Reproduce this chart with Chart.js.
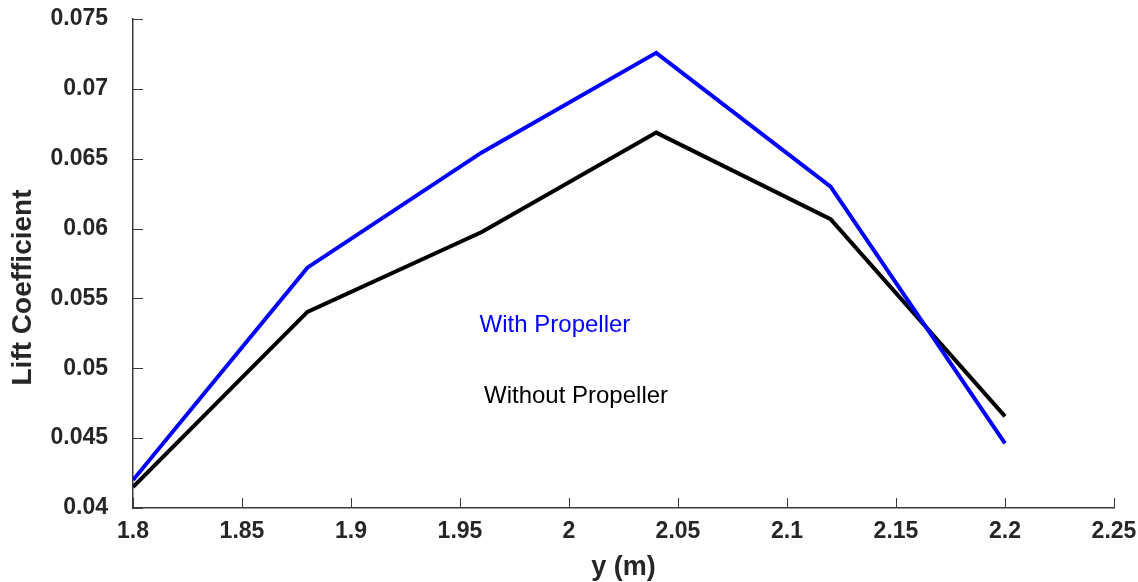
<!DOCTYPE html>
<html>
<head>
<meta charset="utf-8">
<script src="https://cdn.jsdelivr.net/npm/chart.js@4.4.1/dist/chart.umd.min.js"></script>
<style>
  html, body { margin: 0; padding: 0; background: #fff; }
  #wrap { width: 1138px; height: 582px; }
</style>
</head>
<body>
<div id="wrap"><canvas id="lift"></canvas></div>
<script>
// Spanwise lift coefficient, with and without propeller
const spanY = [1.8, 1.88, 1.96, 2.04, 2.12, 2.2];
const liftWithProp = [0.0420, 0.0572, 0.06545, 0.07258, 0.0630, 0.04463];
const liftWithoutProp = [0.0415, 0.05404, 0.05975, 0.06687, 0.06067, 0.04656];

const xTicks = [1.8, 1.85, 1.9, 1.95, 2, 2.05, 2.1, 2.15, 2.2, 2.25];
const yTicks = [0.04, 0.045, 0.05, 0.055, 0.06, 0.065, 0.07, 0.075];

// text labels placed in data coordinates
const notes = [
    { text: 'With Propeller', x: 1.959, y: 0.0531, color: '#0000ff' },
    { text: 'Without Propeller', x: 1.961, y: 0.0480, color: '#000000' }
];

const fmt = v => String(parseFloat(Number(v).toFixed(4)));
const AXIS = '#3a3a3a';
const FONT = '"Liberation Sans", Arial, sans-serif';

// inward tick marks, y title and the two text notes
const extras = {
    id: 'extras',
    afterDraw(chart) {
        const { ctx, chartArea: a, scales: { x, y } } = chart;
        ctx.save();
        ctx.strokeStyle = AXIS;
        ctx.lineWidth = 1;
        ctx.beginPath();
        xTicks.forEach(v => {
            const px = Math.round(x.getPixelForValue(v)) + 0.5;
            ctx.moveTo(px, a.bottom);
            ctx.lineTo(px, a.bottom - 10);
        });
        yTicks.forEach(v => {
            const py = Math.round(y.getPixelForValue(v)) + 0.5;
            ctx.moveTo(a.left, py);
            ctx.lineTo(a.left + 10, py);
        });
        ctx.stroke();

        // y axis title, sits a bit below the middle like the original
        ctx.save();
        ctx.translate(23, (a.top + a.bottom) / 2 + 24);
        ctx.rotate(-Math.PI / 2);
        ctx.font = 'bold 28px ' + FONT;
        ctx.fillStyle = '#262626';
        ctx.textAlign = 'center';
        ctx.textBaseline = 'middle';
        ctx.fillText('Lift Coefficient', 0, 0);
        ctx.restore();

        ctx.font = '24px ' + FONT;
        ctx.textBaseline = 'middle';
        ctx.textAlign = 'left';
        notes.forEach(n => {
            ctx.fillStyle = n.color;
            ctx.fillText(n.text, x.getPixelForValue(n.x), y.getPixelForValue(n.y));
        });
        ctx.restore();
    }
};

new Chart(document.getElementById('lift'), {
    type: 'line',
    data: {
        datasets: [
            {
                label: 'With Propeller',
                data: spanY.map((v, i) => ({ x: v, y: liftWithProp[i] })),
                borderColor: '#0000ff',
                borderWidth: 4,
                pointRadius: 0,
                tension: 0,
                fill: false
            },
            {
                label: 'Without Propeller',
                data: spanY.map((v, i) => ({ x: v, y: liftWithoutProp[i] })),
                borderColor: '#000000',
                borderWidth: 4,
                pointRadius: 0,
                tension: 0,
                fill: false
            }
        ]
    },
    options: {
        animation: false,
        responsive: true,
        maintainAspectRatio: false,
        layout: { padding: { top: 19, right: 24, left: 0, bottom: 0 } },
        plugins: {
            legend: { display: false },
            tooltip: { enabled: false }
        },
        scales: {
            x: {
                type: 'linear',
                min: 1.8,
                max: 2.25,
                afterFit: s => {
                    s.height = 74;
                    s.paddingLeft = 0;
                    s.paddingRight = 0;
                },
                afterBuildTicks: s => { s.ticks = xTicks.map(v => ({ value: v })); },
                grid: { display: true, drawOnChartArea: false, drawTicks: false },
                border: { display: true, color: AXIS, width: 1.5 },
                ticks: {
                    padding: 10,
                    color: '#262626',
                    font: { family: FONT, size: 23, weight: 'bold' },
                    maxRotation: 0,
                    autoSkip: false,
                    callback: v => fmt(v)
                },
                title: {
                    display: true,
                    text: 'y (m)',
                    color: '#262626',
                    font: { family: FONT, size: 27, weight: 'bold', lineHeight: 1 },
                    padding: { top: 0, bottom: 1 }
                }
            },
            y: {
                type: 'linear',
                min: 0.04,
                max: 0.075,
                afterFit: s => {
                    s.width = 133;
                    s.paddingTop = 0;
                    s.paddingBottom = 0;
                },
                afterBuildTicks: s => { s.ticks = yTicks.map(v => ({ value: v })); },
                grid: { display: true, drawOnChartArea: false, drawTicks: false },
                border: { display: true, color: AXIS, width: 1.5 },
                ticks: {
                    padding: 25,
                    color: '#262626',
                    font: { family: FONT, size: 23, weight: 'bold' },
                    autoSkip: false,
                    callback: v => fmt(v)
                },
                title: { display: false }
            }
        }
    },
    plugins: [extras]
});
</script>
</body>
</html>
